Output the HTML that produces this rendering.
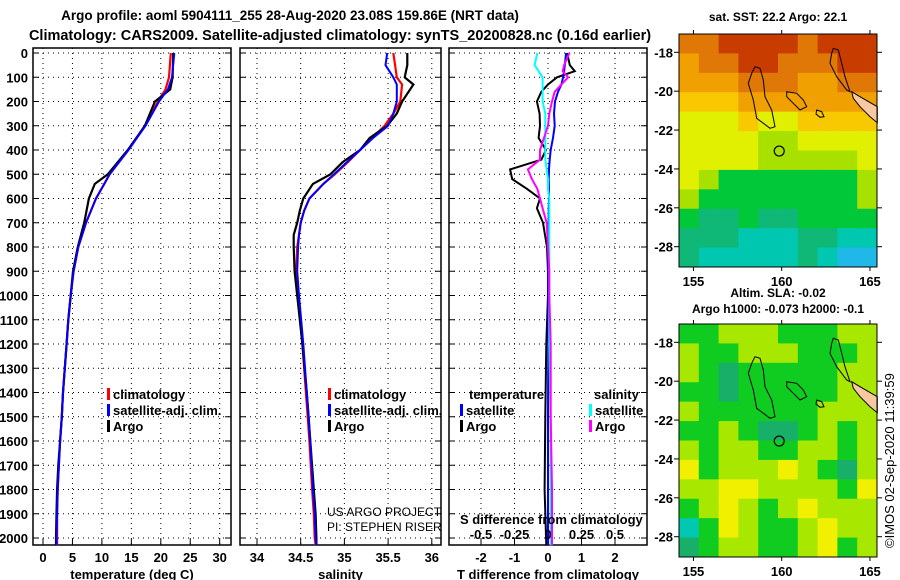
<!DOCTYPE html>
<html><head><meta charset="utf-8"><style>
html,body{margin:0;padding:0;background:#fff;}
svg{display:block;font-family:"Liberation Sans",sans-serif;}
.b{font-weight:bold;font-size:13px;}
</style></head><body>
<svg id="fig" width="900" height="580" viewBox="0 0 900 580" xmlns="http://www.w3.org/2000/svg">
<text x="290" y="20" text-anchor="middle" class="b" style="font-size:13.5px">Argo profile: aoml 5904111_255 28-Aug-2020 23.08S 159.86E (NRT data)</text>
<text x="340" y="40" text-anchor="middle" class="b" style="font-size:14.5px">Climatology: CARS2009. Satellite-adjusted climatology: synTS_20200828.nc (0.16d earlier)</text>
<g id="plots"></g>
</svg>
<script>
// ---------- profile data ----------
const tDepth = [0,100,150,200,300,400,500,540,600,700,800,900,1000,1100,1200,1300,1400,1500,1600,1700,1800,1900,2000,2030];
const tArgo  = [22.1,22.0,21.6,19.0,17.3,14.4,11.0,8.8,7.8,7.0,5.9,5.1,4.7,4.3,4.0,3.7,3.4,3.2,2.9,2.6,2.4,2.3,2.2,2.2];
const tClim  = [21.7,21.4,20.8,19.5,17.3,14.5,11.3,10.4,9.0,7.3,6.0,5.2,4.7,4.3,4.0,3.7,3.4,3.2,2.9,2.7,2.5,2.4,2.4,2.4];
const tSat   = [22.3,21.9,21.2,19.7,17.4,14.5,11.3,10.4,9.0,7.3,6.0,5.2,4.7,4.3,4.0,3.7,3.4,3.2,2.9,2.7,2.5,2.4,2.3,2.3];
const sDepth = [0,50,100,130,200,250,300,350,400,450,500,540,600,650,700,750,800,900,1000,1200,1400,1500,1600,1800,1900,2000,2030];
const sArgo  = [35.72,35.72,35.69,35.79,35.66,35.60,35.49,35.29,35.18,34.98,34.84,34.64,34.53,34.49,34.46,34.42,34.42,34.43,34.46,34.52,34.57,34.59,34.61,34.65,34.67,34.68,34.68];
const sClim  = [35.56,35.58,35.60,35.66,35.64,35.56,35.46,35.32,35.18,35.04,34.89,34.76,34.60,34.54,34.50,34.48,34.46,34.45,34.47,34.52,34.56,34.58,34.60,34.63,34.65,34.66,34.67];
const sSat   = [35.49,35.47,35.56,35.60,35.60,35.56,35.50,35.33,35.18,35.03,34.88,34.76,34.60,34.54,34.50,34.48,34.47,34.46,34.48,34.53,34.57,34.59,34.61,34.64,34.66,34.67,34.68];
const dDepth = [0,50,75,100,130,160,200,250,300,350,400,440,480,520,560,600,640,700,800,900,1000,1200,1500,1800,2030];
const dTSat  = [0.54,0.5,0.48,0.45,0.4,0.3,0.21,0.18,0.2,0.15,0.08,0.05,0.03,0.02,0.03,0.03,0.02,0.02,0.01,0.0,0.01,0.01,0.0,0.0,0.0];
const dTArgo = [0.57,0.65,0.8,0.27,0.0,-0.2,-0.33,-0.25,-0.24,-0.28,-0.06,-0.2,-1.13,-1.07,-0.63,-0.24,-0.33,-0.15,-0.03,0.0,0.0,-0.05,-0.08,-0.1,-0.05];
const dSSat  = [-0.08,-0.1,-0.07,-0.04,-0.04,-0.04,-0.04,-0.02,-0.02,-0.02,-0.02,-0.02,-0.01,0.0,0.0,0.01,0.01,0.01,0.01,0.01,0.01,0.01,0.02,0.02,0.02];
const dSArgo = [0.16,0.12,0.11,0.15,0.1,0.05,0.03,0.01,0.0,-0.03,-0.06,-0.06,-0.15,-0.12,-0.08,-0.06,-0.04,-0.01,0.0,0.01,0.01,0.02,0.02,0.03,0.03];
const depthTicks = [0,100,200,300,400,500,600,700,800,900,1000,1100,1200,1300,1400,1500,1600,1700,1800,1900,2000];
const tTicks = [0,5,10,15,20,25,30];
const sTicks = [34,34.5,35,35.5,36];
const sTickLabels = ["34","34.5","35","35.5","36"];
const dTTicks = [-2,-1,0,1,2];
const dSTicks = [-0.5,-0.25,0,0.25,0.5];
const dSTickLabels = ["-0.5","-0.25","0","0.25","0.5"];
// ---------- map data (level indices, rows N->S, cols W->E) ----------
const sstGrid = [
"8899998999","7889988899","7778887788","6667777777","5556556666",
"5555445555","5555444445","5433333334","4333333334","3223223333",
"2221112211","2111112100"];
const slaGrid = [
"3344433344","4334443334","4323333344","3323333344","4333333444",
"3343223434","4344334434","5344454324","4455444435","3454345444",
"1354334544","2344334534"];
const sstColors = ["#20b8e8","#00c8b0","#10b878","#00c838","#a8e000","#e0f000","#f8c800","#f0a000","#e07808","#c83c00"];
const slaColors = ["#00c8c0","#00c8b0","#18b068","#10cc20","#a8e800","#f0f000","#f8c000"];

const NS="http://www.w3.org/2000/svg";
const root=document.getElementById('plots');
function mk(tag,attrs,parent){const e=document.createElementNS(NS,tag);for(const k in attrs)e.setAttribute(k,attrs[k]);(parent||root).appendChild(e);return e;}
const Y0=53, YK=0.2425;
const yD = d => Y0 + d*YK;
const PBOT=545;

function panel(name,x0,x1,ticks,labels,xf,title,showDepth){
  const g=mk('g',{});
  
  
  mk('rect',{x:x0,y:48,width:x1-x0,height:PBOT-48,fill:'#fff',stroke:'#000','stroke-width':1.5},g);
  depthTicks.forEach(d=>{
    mk('line',{x1:x0,x2:x1,y1:yD(d),y2:yD(d),stroke:'#000','stroke-width':1,'stroke-dasharray':'1,4'},g);
    mk('line',{x1:x0,x2:x0+6,y1:yD(d),y2:yD(d),stroke:'#000'},g);
    mk('line',{x1:x1-6,x2:x1,y1:yD(d),y2:yD(d),stroke:'#000'},g);
    if(showDepth){const t=mk('text',{x:28,y:yD(d)+5,'text-anchor':'end',class:'b'},g);t.textContent=d;
      
      }
  });
  ticks.forEach((v,i)=>{
    const x=xf(v);
    mk('line',{x1:x,x2:x,y1:48,y2:PBOT,stroke:'#000','stroke-dasharray':'1,4'},g);
    mk('line',{x1:x,x2:x,y1:PBOT-6,y2:PBOT,stroke:'#000'},g);
    const t=mk('text',{x:x,y:562,'text-anchor':'middle',class:'b'},g);t.textContent=labels[i];
    
    
  });
  const tt=mk('text',{x:(x0+x1)/2,y:579,'text-anchor':'middle',class:'b'},g);tt.textContent=title;
  
  
  return g;
}
function line(g,depths,vals,xf,color,w,name){
  const pts=depths.map((d,i)=>xf(vals[i]).toFixed(1)+','+yD(d).toFixed(1)).join(' ');
  const p=mk('polyline',{points:pts,fill:'none',stroke:color,'stroke-width':w},g);
  
  
}
function legend(g,x,y,color,label,name){
  mk('rect',{x:x,y:y-11,width:3,height:12,fill:color},g);
  const t=mk('text',{x:x+6,y:y,class:'b'},g);t.textContent=label;
  
  
}
function txt(g,x,y,s,cls,name,extra){
  const t=mk('text',Object.assign({x:x,y:y,class:cls||'b'},extra||{}),g);t.textContent=s;
  
  return t;
}
// panel 1
const xT=v=>43+v*5.89;
const g1=panel('temperature-panel',33,231,tTicks,tTicks.map(String),xT,'temperature (deg C)',true);
line(g1,tDepth,tClim,xT,'#f00',2.2,'temperature-climatology-line');
line(g1,tDepth,tArgo,xT,'#000',2.2,'temperature-argo-line');
line(g1,tDepth,tSat,xT,'#00f',2,'temperature-satellite-line');
legend(g1,107,399,'#f00','climatology','legend-climatology');
legend(g1,107,415,'#00f','satellite-adj. clim.','legend-satellite');
legend(g1,107,431,'#000','Argo','legend-argo');
// panel 2
const xS=v=>257+(v-34)*87.4;
const g2=panel('salinity-panel',240,441,sTicks,sTickLabels,xS,'salinity',false);
line(g2,sDepth,sClim,xS,'#f00',2.2,'salinity-climatology-line');
line(g2,sDepth,sArgo,xS,'#000',2.2,'salinity-argo-line');
line(g2,sDepth,sSat,xS,'#00f',2,'salinity-satellite-line');
legend(g2,328,399,'#f00','climatology','legend-climatology');
legend(g2,328,415,'#00f','satellite-adj. clim.','legend-satellite');
legend(g2,328,431,'#000','Argo','legend-argo');
txt(g2,327,516,'US ARGO PROJECT','','credit-project',{style:'font-size:12px;font-weight:normal'});
txt(g2,327,531,'PI: STEPHEN RISER','','credit-pi',{style:'font-size:12px;font-weight:normal'});
// panel 3
const xDT=v=>548+v*33.5, xDS=v=>548+v*134;
const g3=panel('difference-panel',449,647,dTTicks,dTTicks.map(String),xDT,'T difference from climatology',false);
line(g3,dDepth,dTArgo,xDT,'#000',2,'t-diff-argo-line');
line(g3,dDepth,dTSat,xDT,'#00f',2,'t-diff-satellite-line');
line(g3,dDepth,dSSat,xDS,'#0ff',2,'s-diff-satellite-line');
line(g3,dDepth,dSArgo,xDS,'#f0f',2,'s-diff-argo-line');
txt(g3,469,399,'temperature','','legend-temperature-heading');
txt(g3,594,399,'salinity','','legend-salinity-heading');
legend(g3,460,415,'#00f','satellite','legend-t-satellite');
legend(g3,460,431,'#000','Argo','legend-t-argo');
legend(g3,589,415,'#0ff','satellite','legend-s-satellite');
legend(g3,589,431,'#f0f','Argo','legend-s-argo');
txt(g3,460,524,'S difference from climatology','','s-axis-title');
dSTicks.forEach((v,i)=>{txt(g3,xDS(v),539,dSTickLabels[i],'','s-tick-label',{'text-anchor':'middle'});});

// ---------- maps ----------
const lonX=lon=>781.7+(lon-160)*17.65;
const latY=lat=>52.3+(-18-lat)*19.44;
function map(name,dy,grid,colors){
  const g=mk('g',{transform:'translate(0,'+dy+')'});
  
  
  const L=679,R=877,T=34,B=267;
  const rows=grid.length, cols=grid[0].length, cw=(R-L)/cols, ch=(B-T)/rows;
  grid.forEach((row,r)=>{for(let c=0;c<cols;c++){
    const cell=mk('rect',{x:L+c*cw,y:T+r*ch,width:cw+0.5,height:ch+0.5,fill:colors[+row[c]]},g);
    
    }});
  const cz=(pts)=>pts.map(p=>(640+p[0]/3).toFixed(1)+','+(p[1]/3).toFixed(1)).join(' ');
  mk('polygon',{points:cz([[635,275],[660,290],[712,320],[712,368],[690,350],[660,320],[640,295]]),fill:'#f8c8a0',stroke:'#000','stroke-width':1},g);
  [[[345,200],[360,205],[370,240],[375,290],[395,330],[405,380],[390,385],[350,355],[340,300],[325,250],[335,220]],
   [[440,275],[470,280],[490,300],[500,320],[480,330],[460,310],[440,290]],
   [[580,145],[595,150],[605,190],[615,230],[630,275],[620,270],[590,230],[570,190],[575,160]],
   [[530,330],[545,335],[552,350],[540,352],[528,342]]].forEach(p=>mk('polygon',{points:cz(p),fill:'none',stroke:'#000','stroke-width':1},g));
  mk('circle',{cx:lonX(159.86),cy:latY(-23.08),r:5,fill:'none',stroke:'#000','stroke-width':1.2},g);
  mk('rect',{x:L,y:T,width:R-L,height:B-T,fill:'none',stroke:'#000','stroke-width':1},g);
  [-18,-20,-22,-24,-26,-28].forEach(lat=>{
    const y=latY(lat);
    mk('line',{x1:L-5,x2:L,y1:y,y2:y,stroke:'#000'},g);
    mk('line',{x1:R,x2:R+5,y1:y,y2:y,stroke:'#000'},g);
    txt(g,673,y+5,String(lat),'','map-lat-label',{'text-anchor':'end'});
  });
  [155,160,165].forEach(lon=>{
    const x=lonX(lon);
    mk('line',{x1:x,x2:x,y1:T-4,y2:T,stroke:'#000'},g);
    mk('line',{x1:x,x2:x,y1:B,y2:B+4,stroke:'#000'},g);
    txt(g,x,286,String(lon),'','map-lon-label',{'text-anchor':'middle'});
  });
  return g;
}
map('sst-map',0,sstGrid,sstColors);
map('sla-map',290,slaGrid,slaColors);
txt(root,778,21,'sat. SST: 22.2 Argo: 22.1','','sst-title',{'text-anchor':'middle','style':'font-size:12px'});
txt(root,778,297,'Altim. SLA: -0.02','','sla-title',{'text-anchor':'middle','style':'font-size:12px'});
txt(root,778,313,'Argo h1000: -0.073 h2000: -0.1','','argo-height-title',{'text-anchor':'middle','style':'font-size:12px'});
txt(root,0,0,'©IMOS 02-Sep-2020 11:39:59','','imos-credit',{transform:'translate(894,548) rotate(-90)',style:'font-size:13px;font-weight:normal'});
</script>
</body></html>
